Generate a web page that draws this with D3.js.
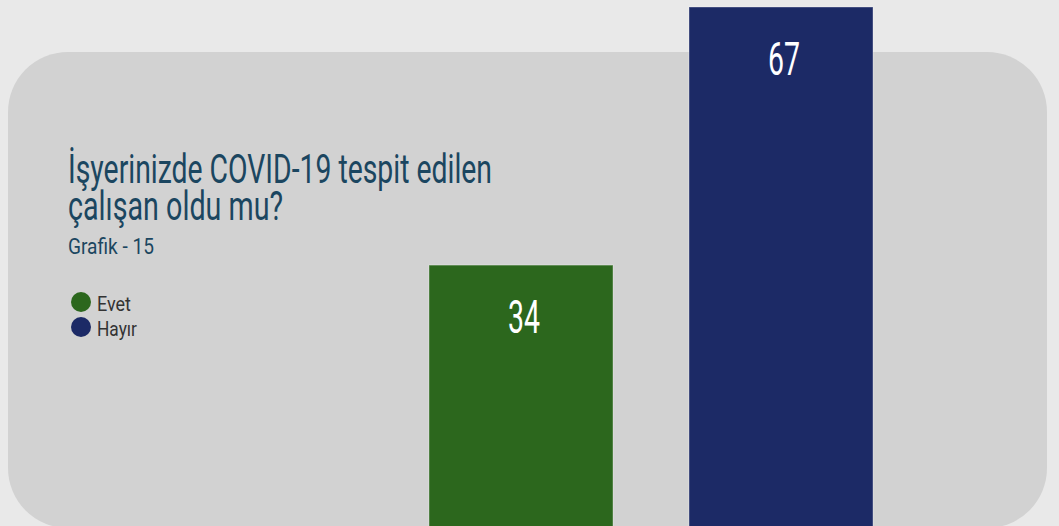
<!DOCTYPE html>
<html>
<head>
<meta charset="utf-8">
<script src="https://cdn.jsdelivr.net/npm/d3@7"></script>
<style>
  html, body { margin: 0; padding: 0; background: #e9e9e9; overflow: hidden; }
  svg { display: block; }
</style>
</head>
<body>
<svg id="chart"></svg>
<script>
// data
const categories = ["Evet", "Hayır"];
const values = [34, 67];
const colors = ["#2c671d", "#1c2a66"];
const titleLines = ["İşyerinizde COVID-19 tespit edilen", "çalışan oldu mu?"];
const subtitle = "Grafik - 15";

const width = 1059;
const height = 526;
const font = "Roboto, 'Liberation Sans', sans-serif";

const svg = d3.select("#chart")
    .attr("width", width)
    .attr("height", height);

// page background + rounded panel
svg.append("rect")
    .attr("width", width)
    .attr("height", height)
    .attr("fill", "#e9e9e9");

svg.append("rect")
    .attr("x", 8)
    .attr("y", 52)
    .attr("width", 1039)
    .attr("height", 476)
    .attr("rx", 60)
    .attr("ry", 60)
    .attr("fill", "#d2d2d2");

// scales
const xScale = d3.scaleBand()
    .domain(categories)
    .range([429, 873])
    .paddingInner(0.2923)
    .paddingOuter(0);

const yScale = d3.scaleLinear()
    .domain([0, 67])
    .range([531, 7]);

// bars
svg.selectAll("rect.bar")
    .data(values)
    .enter()
    .append("rect")
        .attr("class", "bar")
        .attr("x", (d, i) => xScale(categories[i]))
        .attr("y", d => yScale(d))
        .attr("width", xScale.bandwidth())
        .attr("height", d => yScale(0) - yScale(d))
        .attr("fill", (d, i) => colors[i])
        .attr("stroke", "#ffffff")
        .attr("stroke-opacity", 0.35)
        .attr("stroke-width", 1);

// value labels inside bars
svg.selectAll("text.value")
    .data(values)
    .enter()
    .append("text")
        .attr("class", "value")
        .attr("x", (d, i) => xScale(categories[i]) + xScale.bandwidth() / 2 + 3)
        .attr("y", d => yScale(d) + 68)
        .attr("text-anchor", "middle")
        .attr("fill", "#ffffff")
        .attr("font-family", font)
        .attr("font-size", 47)
        .attr("textLength", 32)
        .attr("lengthAdjust", "spacingAndGlyphs")
        .text(d => d);

// title, one text block with two lines
const titleWidths = [424, 215];
const title = svg.append("text")
    .attr("fill", "#1b4660")
    .attr("font-family", font)
    .attr("font-size", 40);

titleLines.forEach((line, i) => {
    title.append("tspan")
        .attr("x", 68)
        .attr("y", 183 + i * 37)
        .attr("textLength", titleWidths[i])
        .attr("lengthAdjust", "spacingAndGlyphs")
        .text(line);
});

svg.append("text")
    .attr("x", 68)
    .attr("y", 254)
    .attr("fill", "#1b4660")
    .attr("font-family", font)
    .attr("font-size", 22)
    .attr("textLength", 86)
    .attr("lengthAdjust", "spacingAndGlyphs")
    .text(subtitle);

// legend
const legendWidths = [34, 40];
const legend = svg.selectAll("g.legend")
    .data(categories)
    .enter()
    .append("g")
        .attr("class", "legend")
        .attr("transform", (d, i) => `translate(81, ${302 + i * 25})`);

legend.append("circle")
    .attr("r", 10)
    .attr("fill", (d, i) => colors[i]);

legend.append("text")
    .attr("x", 16)
    .attr("y", 9)
    .attr("fill", "#333333")
    .attr("font-family", font)
    .attr("font-size", 20)
    .attr("textLength", (d, i) => legendWidths[i])
    .attr("lengthAdjust", "spacingAndGlyphs")
    .text(d => d);
</script>
</body>
</html>
